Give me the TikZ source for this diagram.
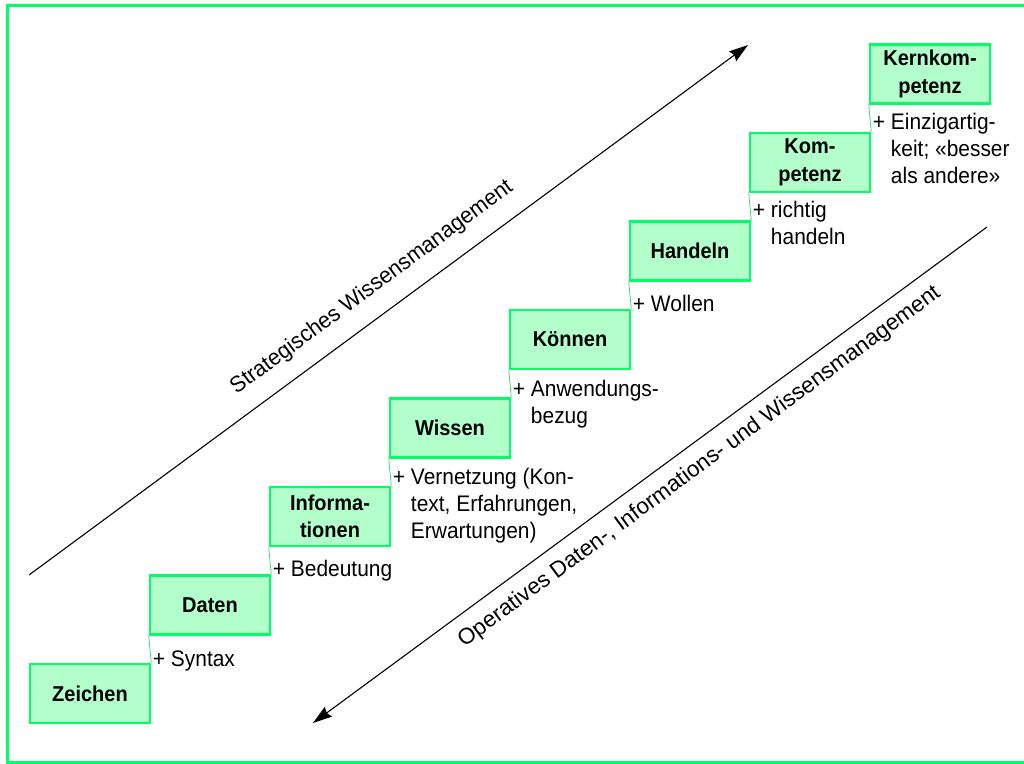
\documentclass[tikz,border=0pt]{standalone}
\usepackage{fontspec}
\setmainfont{Liberation Sans}[FakeStretch=0.93]
\newfontfamily\axisfontA{Liberation Sans}[FakeStretch=0.96]
\newfontfamily\axisfontB{Liberation Sans}
\usetikzlibrary{arrows.meta}
\definecolor{framegreen}{RGB}{0,255,102}
\definecolor{boxfill}{RGB}{179,255,204}
\definecolor{riser}{RGB}{70,215,125}

\begin{document}
\begin{tikzpicture}[x=1pt,y=-1pt,
  stepbox/.style={draw=framegreen, fill=boxfill, line width=2.5pt,
    minimum width=120pt, minimum height=59pt, inner sep=0pt, align=center,
    font=\fontsize{21.5}{27.5}\selectfont\bfseries},
  addon/.style={anchor=north west, inner sep=0pt, align=left,
    font=\fontsize{22.5}{27}\selectfont},
  riserline/.style={draw=riser, line width=0.8pt},
  axis/.style={line width=1.1pt, -{Stealth[length=19pt,width=12pt,inset=2pt]}},
  axislabel/.style={rotate=36.39, anchor=base, inner sep=0pt}]

\useasboundingbox (0,0) rectangle (1024,763);

% outer frame (open to the right)
\draw[framegreen, line width=3pt] (1040,5.3) -- (7.5,5.3) -- (7.5,762.5) -- (1040,762.5);

% the staircase
\node[stepbox] (z0) at (90,693.5)  {Zeichen};
\node[stepbox] (z1) at (210,605)   {Daten};
\node[stepbox] (z2) at (330,516.5) {Informa-\\tionen};
\node[stepbox] (z3) at (450,428)   {Wissen};
\node[stepbox] (z4) at (570,339.5) {Können};
\node[stepbox] (z5) at (690,251)   {Handeln};
\node[stepbox] (z6) at (810,162.5) {Kom-\\petenz};
\node[stepbox] (z7) at (930,74)    {Kernkom-\\petenz};

% risers between the steps
\draw[riserline] (z1.south west) -- (z0.north east);
\draw[riserline] (z2.south west) -- (z1.north east);
\draw[riserline] (z3.south west) -- (z2.north east);
\draw[riserline] (z4.south west) -- (z3.north east);
\draw[riserline] (z5.south west) -- (z4.north east);
\draw[riserline] (z6.south west) -- (z5.north east);
\draw[riserline] (z7.south west) -- (z6.north east);

% what each step adds
\node[addon] (p0) at ([xshift=4pt,yshift=-11.8pt]z1.south west) {\strut+ Syntax};
\node[addon] (p1) at ([xshift=4pt,yshift=-9.7pt]z2.south west) {\strut+ Bedeutung};
\node[addon] (p2) at ([xshift=4pt,yshift=-6.8pt]z3.south west)
  {\strut+ Vernetzung (Kon-\\\hphantom{+\ }text, Erfahrungen,\\\hphantom{+\ }Erwartungen)};
\node[addon] (p3) at ([xshift=4pt,yshift=-6.7pt]z4.south west)
  {\strut+ Anwendungs-\\\hphantom{+\ }bezug};
\node[addon] (p4) at ([xshift=4pt,yshift=-10.4pt]z5.south west) {\strut+ Wollen};
\node[addon] (p5) at ([xshift=4pt,yshift=-5.5pt]z6.south west)
  {\strut+ richtig\\\hphantom{+\ }handeln};
\node[addon] (p6) at ([xshift=4pt,yshift=-6.1pt]z7.south west)
  {\strut+ Einzigartig-\\\hphantom{+\ }keit; «besser\\\hphantom{+\ }als andere»};

% the two management axes
\coordinate (a1) at (29,575);
\coordinate (b1) at (748,45);
\draw[axis] (a1) -- (b1);
\coordinate (a2) at (987,227);
\coordinate (b2) at (313,723);
\draw[axis] (a2) -- (b2);

\node[axislabel, font=\axisfontA\fontsize{22.5}{27}\selectfont] (t1) at (375.4,292.3)
  {Strategisches Wissensmanagement};
\node[axislabel, font=\axisfontB\fontsize{22.5}{27}\selectfont] (t2) at (702.9,471.6)
  {Operatives Daten-, Informations- und Wissensmanagement};
\end{tikzpicture}
\end{document}
